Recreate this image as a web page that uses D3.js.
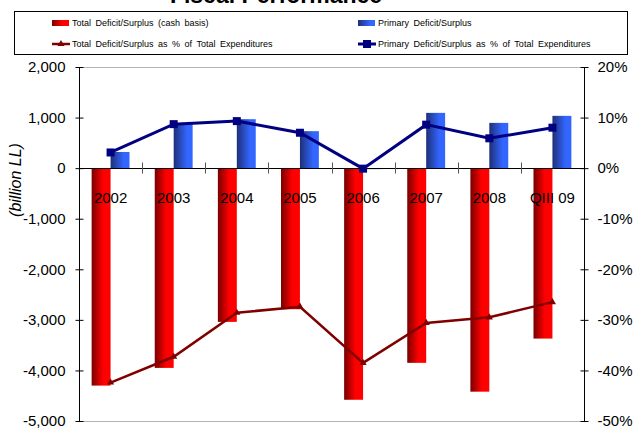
<!DOCTYPE html>
<html>
<head>
<meta charset="utf-8">
<script src="https://cdn.jsdelivr.net/npm/d3@7"></script>
<style>
  html, body { margin: 0; padding: 0; background: #fff; }
  svg { display: block; font-family: "Liberation Sans", Arial, sans-serif; }
</style>
</head>
<body>
<svg id="chart" width="636" height="429"></svg>
<script>
// Fiscal performance: deficits in billion LL (bars, left axis) and as % of expenditures (lines, right axis)
const categories = ["2002", "2003", "2004", "2005", "2006", "2007", "2008", "QIII 09"];
const totalDeficit = [-4300, -3950, -3040, -2790, -4580, -3850, -4420, -3370];
const primaryDeficit = [320, 895, 968, 731, -20, 1093, 895, 1034];
const totalDeficitPct = [-42.4, -37.3, -28.6, -27.4, -38.5, -30.6, -29.5, -26.5];
const primaryDeficitPct = [3.1, 8.7, 9.3, 7.0, -0.1, 8.6, 5.9, 8.0];
const leftTicks = [2000, 1000, 0, -1000, -2000, -3000, -4000, -5000];
const rightTicks = [20, 10, 0, -10, -20, -30, -40, -50];

const svg = d3.select("#chart");
const plotL = 79, plotR = 584, plotT = 67, plotB = 421;

const x = d3.scaleBand().domain(categories).range([plotL, plotR]).paddingInner(0).paddingOuter(0);
const y = d3.scaleLinear().domain([-5000, 2000]).range([plotB, plotT]);
const y2 = d3.scaleLinear().domain([-50, 20]).range([plotB, plotT]);

const locale = d3.formatLocale({ decimal: ".", thousands: ",", grouping: [3], currency: ["", ""], minus: "-" });
const fmtNum = locale.format(",");
const fmtPct = v => locale.format("d")(v) + "%";

// gradients for bars
const defs = svg.append("defs");
const redGrad = defs.append("linearGradient").attr("id", "redGrad").attr("x1", "0").attr("x2", "1").attr("y1", "0").attr("y2", "0");
redGrad.append("stop").attr("offset", "0%").attr("stop-color", "#780000");
redGrad.append("stop").attr("offset", "60%").attr("stop-color", "#ff0000");
redGrad.append("stop").attr("offset", "100%").attr("stop-color", "#ff0000");
const blueGrad = defs.append("linearGradient").attr("id", "blueGrad").attr("x1", "0").attr("x2", "1").attr("y1", "0").attr("y2", "0");
blueGrad.append("stop").attr("offset", "0%").attr("stop-color", "#1e2f78");
blueGrad.append("stop").attr("offset", "70%").attr("stop-color", "#3366ff");
blueGrad.append("stop").attr("offset", "100%").attr("stop-color", "#3366ff");

// title (mostly above the visible area)
svg.append("text").attr("x", 276).attr("y", 3).attr("text-anchor", "middle")
  .attr("font-size", 23).attr("font-weight", "bold").text("Fiscal Performance");

// plot border lines (top / bottom)
svg.append("line").attr("x1", plotL).attr("x2", plotR).attr("y1", plotT + 0.5).attr("y2", plotT + 0.5).attr("stroke", "#b4b4b4");
svg.append("line").attr("x1", plotL).attr("x2", plotR).attr("y1", plotB + 0.5).attr("y2", plotB + 0.5).attr("stroke", "#b4b4b4");

const bw = x.bandwidth() * 0.3;
const center = c => x(c) + x.bandwidth() / 2;

// bars
svg.append("g").selectAll("rect").data(categories).join("rect")
  .attr("x", (c) => center(c) - bw)
  .attr("y", (c, i) => y(Math.max(0, totalDeficit[i])))
  .attr("width", bw)
  .attr("height", (c, i) => Math.abs(y(totalDeficit[i]) - y(0)))
  .attr("fill", "url(#redGrad)");
svg.append("g").selectAll("rect").data(categories).join("rect")
  .attr("x", (c) => center(c))
  .attr("y", (c, i) => y(Math.max(0, primaryDeficit[i])))
  .attr("width", bw)
  .attr("height", (c, i) => Math.max(1, Math.abs(y(primaryDeficit[i]) - y(0))))
  .attr("fill", "url(#blueGrad)");

// left axis
const axL = svg.append("g").attr("transform", `translate(${plotL + 0.5},0)`)
  .call(d3.axisLeft(y).tickValues(leftTicks).tickFormat(fmtNum).tickSize(4).tickPadding(10));
axL.select(".domain").attr("d", `M0,${plotT}V${plotB}`);
axL.selectAll(".tick line").attr("x1", 4);
axL.selectAll("text").attr("font-size", 15).attr("font-family", "Liberation Sans, Arial, sans-serif").attr("fill", "#000");

// right axis
const axR = svg.append("g").attr("transform", `translate(${plotR + 0.5},0)`)
  .call(d3.axisRight(y2).tickValues(rightTicks).tickFormat(fmtPct).tickSize(4).tickPadding(9));
axR.select(".domain").attr("d", `M0,${plotT}V${plotB}`);
axR.selectAll(".tick line").attr("x1", -4);
axR.selectAll("text").attr("font-size", 15).attr("font-family", "Liberation Sans, Arial, sans-serif").attr("fill", "#000");

// zero line with category separators
const zeroY = Math.round(y(0)) + 0.5;
svg.append("line").attr("x1", plotL).attr("x2", plotR).attr("y1", zeroY).attr("y2", zeroY).attr("stroke", "#000");
svg.append("g").selectAll("line").data(categories.slice(1)).join("line")
  .attr("x1", c => Math.round(x(c)) + 0.5).attr("x2", c => Math.round(x(c)) + 0.5)
  .attr("y1", zeroY - 6).attr("y2", zeroY + 5).attr("stroke", "#555");

// lines on right axis
const lineGen = d3.line().x(d => d[0]).y(d => d[1]);
const redPts = categories.map((c, i) => [center(c), y2(totalDeficitPct[i])]);
const bluePts = categories.map((c, i) => [center(c), y2(primaryDeficitPct[i])]);
svg.append("path").attr("d", lineGen(redPts)).attr("fill", "none").attr("stroke", "#800000").attr("stroke-width", 2.5);
svg.append("g").selectAll("path").data(redPts).join("path")
  .attr("d", d3.symbol(d3.symbolTriangle, 22))
  .attr("transform", d => `translate(${d[0]},${d[1]})`).attr("fill", "#800000");
svg.append("path").attr("d", lineGen(bluePts)).attr("fill", "none").attr("stroke", "#000080").attr("stroke-width", 3);
svg.append("g").selectAll("rect").data(bluePts).join("rect")
  .attr("x", d => d[0] - 4).attr("y", d => d[1] - 4).attr("width", 8).attr("height", 8).attr("fill", "#000080");

// category labels
svg.append("g").selectAll("text").data(categories).join("text")
  .attr("x", c => center(c)).attr("y", 203).attr("text-anchor", "middle")
  .attr("font-size", 15).text(c => c);

// y axis title
svg.append("text").attr("transform", "translate(21,180) rotate(-90)").attr("text-anchor", "middle")
  .attr("font-size", 16).attr("font-style", "italic").text("(billion LL)");

// legend
const legend = svg.append("g");
legend.append("rect").attr("x", 14.5).attr("y", 11.5).attr("width", 613).attr("height", 43)
  .attr("fill", "#fff").attr("stroke", "#000");
const legendItems = [
  { label: "Total Deficit/Surplus (cash basis)", kind: "bar", fill: "url(#redGrad)", x: 52, y: 23 },
  { label: "Primary Deficit/Surplus", kind: "bar", fill: "url(#blueGrad)", x: 358, y: 23 },
  { label: "Total Deficit/Surplus as % of Total Expenditures", kind: "tri", color: "#800000", x: 52, y: 44 },
  { label: "Primary Deficit/Surplus as % of Total Expenditures", kind: "sq", color: "#000080", x: 358, y: 44 }
];
legendItems.forEach(it => {
  const g = legend.append("g");
  if (it.kind === "bar") {
    g.append("rect").attr("x", it.x).attr("y", it.y - 3).attr("width", 17).attr("height", 6).attr("fill", it.fill);
  } else {
    g.append("line").attr("x1", it.x).attr("x2", it.x + 18).attr("y1", it.y).attr("y2", it.y)
      .attr("stroke", it.color).attr("stroke-width", it.kind === "sq" ? 3 : 2.5);
    if (it.kind === "tri") {
      g.append("path").attr("d", d3.symbol(d3.symbolTriangle, 22)).attr("transform", `translate(${it.x + 9},${it.y})`).attr("fill", it.color);
    } else {
      g.append("rect").attr("x", it.x + 5).attr("y", it.y - 4).attr("width", 8).attr("height", 8).attr("fill", it.color);
    }
  }
  g.append("text").attr("x", it.x + 20).attr("y", it.y).attr("dy", "0.35em")
    .attr("font-size", 9).attr("word-spacing", 2).text(it.label);
});
</script>
</body>
</html>
